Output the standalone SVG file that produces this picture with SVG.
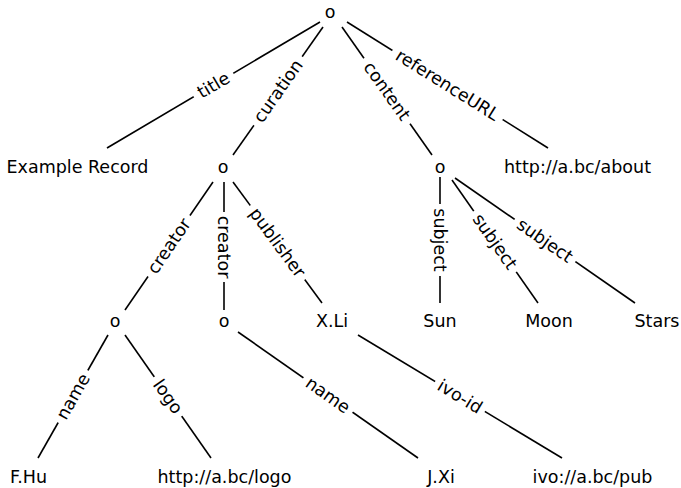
<svg xmlns="http://www.w3.org/2000/svg" width="681" height="488" viewBox="0 0 681 488">
<style>
text{font-family:"DejaVu Sans","Liberation Sans",sans-serif;font-size:17.5px;fill:#000}
.n{text-anchor:middle}
.l{text-anchor:middle;dominant-baseline:central}
.e line{stroke:#000;stroke-width:1.6}
.bg{fill:#fff}
</style>
<rect width="681" height="488" fill="#fff"/>
<g id="connectors" class="e">
<line x1="320" y1="22" x2="107" y2="148"/>
<line x1="323" y1="27" x2="233" y2="155"/>
<line x1="342" y1="27" x2="432" y2="155"/>
<line x1="347" y1="22" x2="548" y2="148"/>
<line x1="213" y1="182" x2="125" y2="310"/>
<line x1="224" y1="182" x2="224" y2="310"/>
<line x1="233" y1="182" x2="322" y2="303"/>
<line x1="440" y1="177" x2="440" y2="303"/>
<line x1="452" y1="180" x2="538" y2="303"/>
<line x1="455" y1="178" x2="635" y2="303"/>
<line x1="108" y1="335" x2="38" y2="458"/>
<line x1="125" y1="335" x2="211" y2="458"/>
<line x1="238" y1="332" x2="418" y2="458"/>
<line x1="358" y1="335" x2="562" y2="458"/>
</g>
<g id="edge-labels">
<g transform="translate(213.5 85) rotate(-30.6)"><rect class="bg" x="-23" y="-9" width="46" height="18"/><text class="l">title</text></g>
<g transform="translate(278 91) rotate(-54.9)"><rect class="bg" x="-42" y="-9" width="84" height="18"/><text class="l">curation</text></g>
<g transform="translate(387 91) rotate(54.9)"><rect class="bg" x="-40" y="-9" width="80" height="18"/><text class="l">content</text></g>
<g transform="translate(447.5 85) rotate(32.1)"><rect class="bg" x="-65" y="-9" width="130" height="18"/><text class="l">referenceURL</text></g>
<g transform="translate(169 246) rotate(-55.5)"><rect class="bg" x="-37" y="-9" width="74" height="18"/><text class="l">creator</text></g>
<g transform="translate(224 247) rotate(90)"><rect class="bg" x="-35" y="-9" width="70" height="18"/><text class="l">creator</text></g>
<g transform="translate(277.5 242.5) rotate(53.7)"><rect class="bg" x="-46" y="-9" width="92" height="18"/><text class="l">publisher</text></g>
<g transform="translate(440 240) rotate(90)"><rect class="bg" x="-36" y="-9" width="72" height="18"/><text class="l">subject</text></g>
<g transform="translate(495 241.5) rotate(55)"><rect class="bg" x="-37" y="-9" width="74" height="18"/><text class="l">subject</text></g>
<g transform="translate(545 240.5) rotate(34.8)"><rect class="bg" x="-37" y="-9" width="74" height="18"/><text class="l">subject</text></g>
<g transform="translate(73 396.5) rotate(-60.4)"><rect class="bg" x="-30" y="-9" width="60" height="18"/><text class="l">name</text></g>
<g transform="translate(168 396.5) rotate(55)"><rect class="bg" x="-24" y="-9" width="48" height="18"/><text class="l">logo</text></g>
<g transform="translate(328 395) rotate(35)"><rect class="bg" x="-30" y="-9" width="60" height="18"/><text class="l">name</text></g>
<g transform="translate(460 396.5) rotate(31.1)"><rect class="bg" x="-29" y="-9" width="58" height="18"/><text class="l">ivo-id</text></g>
</g>
<g id="root"><text class="n" x="330" y="18">o</text></g>
<g id="title-value"><text class="n" x="77.5" y="173">Example Record</text></g>
<g id="curation"><text class="n" x="223" y="173">o</text></g>
<g id="content"><text class="n" x="440" y="173">o</text></g>
<g id="reference-url"><text class="n" x="577.5" y="173">http://a.bc/about</text></g>
<g id="creator1"><text class="n" x="115" y="327">o</text></g>
<g id="creator2"><text class="n" x="224" y="327">o</text></g>
<g id="publisher"><text class="n" x="332" y="327">X.Li</text></g>
<g id="sun"><text class="n" x="440" y="327">Sun</text></g>
<g id="moon"><text class="n" x="549" y="327">Moon</text></g>
<g id="stars"><text class="n" x="657" y="327">Stars</text></g>
<g id="fhu"><text class="n" x="28.5" y="483">F.Hu</text></g>
<g id="logo"><text class="n" x="224.5" y="483">http://a.bc/logo</text></g>
<g id="jxi"><text class="n" x="441" y="483">J.Xi</text></g>
<g id="ivo-pub"><text class="n" x="592.5" y="483">ivo://a.bc/pub</text></g>
</svg>
